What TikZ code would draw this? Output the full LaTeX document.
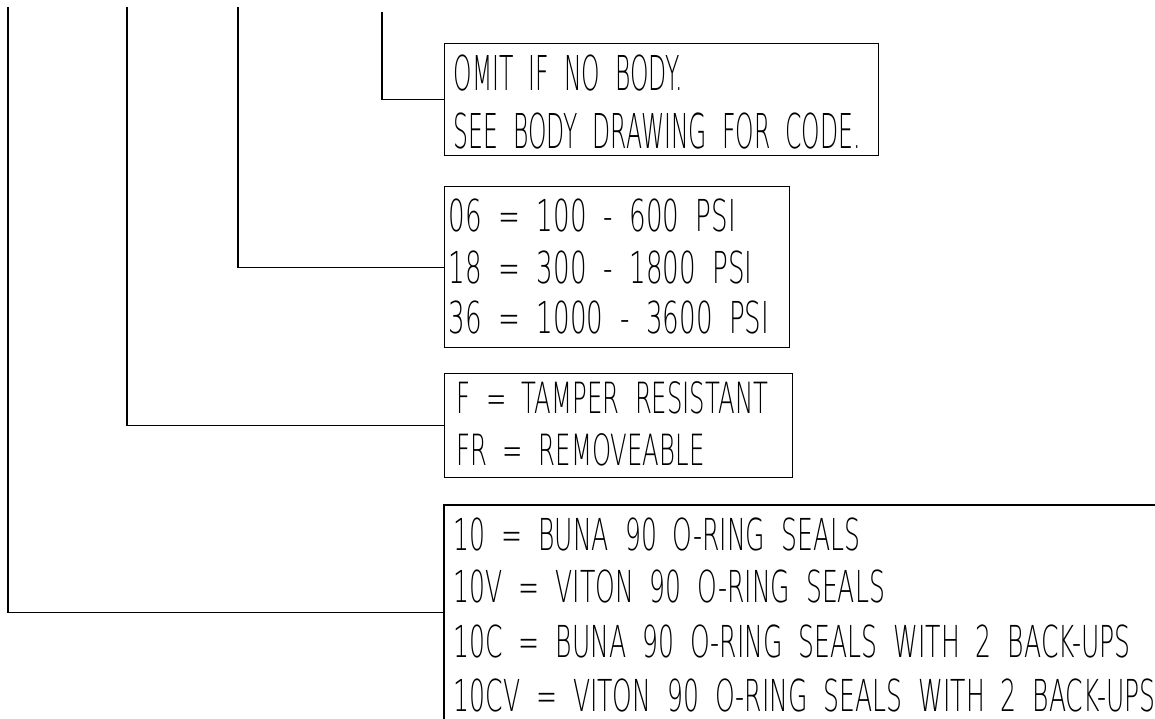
\documentclass[tikz,border=0pt]{standalone}
\usepackage{fontspec}
\setmainfont{DejaVu Sans ExtraLight}
\newfontfamily\fa{DejaVu Sans ExtraLight}[FakeStretch=0.49,WordSpace=2]
\newfontfamily\fb{DejaVu Sans ExtraLight}[FakeStretch=0.594,WordSpace=2]
\newfontfamily\fc{DejaVu Sans ExtraLight}[FakeStretch=0.566,WordSpace=2]
\newfontfamily\fd{DejaVu Sans ExtraLight}[FakeStretch=0.57,WordSpace=2]
\begin{document}
\begin{tikzpicture}[x=1pt,y=-1pt,
  line width=1.2pt,
  box/.style={draw, line width=1.2pt, inner sep=0pt, anchor=north west},
  openbox/.style={inner sep=0pt, anchor=north west},
  txt/.style={inner sep=0pt, anchor=base west}]
\useasboundingbox (0,0) rectangle (1155,719);
% boxes
\node[box, minimum width=434pt, minimum height=112pt] (b1) at (444,43) {};
\node[box, minimum width=345pt, minimum height=161pt] (b2) at (444,186) {};
\node[box, minimum width=348pt, minimum height=104pt] (b3) at (444,373) {};
\node[openbox, minimum width=711pt, minimum height=214pt] (b4) at (444,505) {};
\draw (b4.south west) -- (b4.north west) -- (b4.north east);
% leader starts
\coordinate (s1) at (382,12);
\coordinate (s2) at (238,7);
\coordinate (s3) at (127,7);
\coordinate (s4) at (8,7);
\draw (s1) |- (b1.west);
\draw (s2) |- (b2.west);
\draw (s3) |- (b3.west);
\draw (s4) |- (b4.west);
% texts
\node[txt, font=\fa\fontsize{48}{48}\selectfont] (t11) at (453,91) {OMIT IF NO BODY.};
\node[txt, font=\fa\fontsize{48}{48}\selectfont] (t12) at (453,149) {SEE BODY DRAWING FOR CODE.};
\node[txt, font=\fb\fontsize{44}{44}\selectfont] (t21) at (448,232) {06 = 100 - 600 PSI};
\node[txt, font=\fb\fontsize{44}{44}\selectfont] (t22) at (448,283) {18 = 300 - 1800 PSI};
\node[txt, font=\fb\fontsize{44}{44}\selectfont] (t23) at (448,333) {36 = 1000 - 3600 PSI};
\node[txt, font=\fc\fontsize{43}{43}\selectfont] (t31) at (456,413) {F = TAMPER RESISTANT};
\node[txt, font=\fc\fontsize{43}{43}\selectfont] (t32) at (456,465) {FR = REMOVEABLE};
\node[txt, font=\fd\fontsize{44}{44}\selectfont] (t41) at (453,550) {10 = BUNA 90 O-RING SEALS};
\node[txt, font=\fd\fontsize{44}{44}\selectfont] (t42) at (453,602) {10V = VITON 90 O-RING SEALS};
\node[txt, font=\fd\fontsize{44}{44}\selectfont] (t43) at (453,657) {10C = BUNA 90 O-RING SEALS WITH 2 BACK-UPS};
\node[txt, font=\fd\fontsize{44}{44}\selectfont] (t44) at (453,711) {10CV = VITON 90 O-RING SEALS WITH 2 BACK-UPS};
\end{tikzpicture}
\end{document}
